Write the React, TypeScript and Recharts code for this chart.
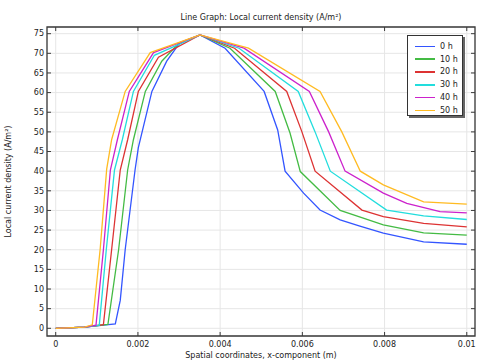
import React from 'react';
import {
  LineChart,
  Line,
  XAxis,
  YAxis,
  CartesianGrid,
  ReferenceArea,
} from 'recharts';

/* data: [x (m), current density (A/m²)] */

const h0: [number, number][] = [
  [0, 0], [0.0007, 0.3], [0.00145, 1.1], [0.00157, 7.1], [0.00169, 20],
  [0.00193, 40.3], [0.00201, 46], [0.00234, 60.3], [0.0027, 68], [0.003, 72.4],
  [0.00351, 74.7], [0.00412, 71.3], [0.00507, 60.3], [0.0054, 50.5], [0.00558, 40],
  [0.00603, 34.4], [0.00643, 30.1], [0.00692, 27.6], [0.0074, 26], [0.00797, 24.2],
  [0.00895, 22], [0.01, 21.4],
];

const h10: [number, number][] = [
  [0, 0], [0.0007, 0.3], [0.00127, 1], [0.00153, 20], [0.00175, 40.3],
  [0.00189, 48], [0.00218, 60.3], [0.00258, 68], [0.003, 72.6], [0.00351, 74.7],
  [0.00424, 71.3], [0.00534, 60.3], [0.0057, 49.7], [0.00595, 39.9], [0.00692, 30],
  [0.0075, 28], [0.00797, 26.3], [0.00895, 24.3], [0.01, 23.7],
];

const h20: [number, number][] = [
  [0, 0], [0.0007, 0.3], [0.00116, 0.9], [0.00136, 20], [0.00157, 40.3],
  [0.00175, 48], [0.00201, 60.3], [0.0025, 69], [0.00351, 74.7], [0.00435, 71.3],
  [0.00562, 60.3], [0.00599, 50], [0.00631, 40], [0.00745, 30.1], [0.00797, 28.4],
  [0.00895, 26.7], [0.01, 25.8],
];

const h30: [number, number][] = [
  [0, 0], [0.0007, 0.3], [0.00106, 0.8], [0.00123, 20], [0.00143, 40.3],
  [0.00162, 48], [0.00189, 60.3], [0.0024, 69.5], [0.00351, 74.7], [0.00446, 71.3],
  [0.0059, 60.3], [0.00631, 50], [0.00668, 40], [0.00805, 30.1], [0.00895, 28.6],
  [0.01, 27.7],
];

const h40: [number, number][] = [
  [0, 0], [0.0007, 0.3], [0.00098, 0.8], [0.00116, 20], [0.00133, 40.3],
  [0.0015, 48], [0.00179, 60.3], [0.00238, 70.2], [0.00351, 74.7], [0.00458, 71.3],
  [0.00617, 60.3], [0.00664, 50], [0.00704, 40], [0.00797, 34.4], [0.00854, 31.8],
  [0.00935, 29.7], [0.01, 29.4],
];

const h50: [number, number][] = [
  [0, 0], [0.0007, 0.3], [0.00089, 0.9], [0.00108, 20], [0.00124, 40.5],
  [0.00136, 48], [0.00169, 60.3], [0.0023, 70.2], [0.00351, 74.7], [0.00469, 71.3],
  [0.00643, 60.3], [0.00696, 50], [0.00741, 40], [0.00797, 36.5], [0.00895, 32.2],
  [0.01, 31.6],
];

const seriesNames = ['0 h', '10 h', '20 h', '30 h', '40 h', '50 h'];
const seriesColors = ['#3355ff', '#44bb44', '#dd3333', '#22dddd', '#cc22cc', '#ffbb22'];
const seriesPoints = [h0, h10, h20, h30, h40, h50];

const xTicks = [0, 0.002, 0.004, 0.006, 0.008, 0.01];
const xTickLabels = ['0', '0.002', '0.004', '0.006', '0.008', '0.01'];
const yTicks = [0, 5, 10, 15, 20, 25, 30, 35, 40, 45, 50, 55, 60, 65, 70, 75];

/* layout */

const W = 483;
const H = 363;
const PLOT_L = 47;
const PLOT_R = 475;
const PLOT_T = 27;
const PLOT_B = 336;
const X_DOMAIN: [number, number] = [-0.000212, 0.0102];
const Y_DOMAIN: [number, number] = [-1.96, 76.7];
const FONT = '"DejaVu Sans", sans-serif';
const FRAME = '#3a3a3a';

const series = seriesNames.map((name, i) => ({
  name,
  color: seriesColors[i],
  data: seriesPoints[i].map(([x, y]) => ({ x, y })),
}));

function YTick({ x, y, payload }: any) {
  return (
    <g>
      <line x1={PLOT_L} x2={PLOT_L + 4} y1={y} y2={y} stroke={FRAME} />
      <line x1={PLOT_R - 4} x2={PLOT_R} y1={y} y2={y} stroke={FRAME} />
      <text x={x - 3} y={y} dy="0.35em" textAnchor="end" fontSize={8} fill="#222" fontFamily={FONT}>
        {payload.value}
      </text>
    </g>
  );
}

function XTick({ x, y, payload, index }: any) {
  return (
    <g>
      <line x1={x} x2={x} y1={PLOT_B} y2={PLOT_B - 4} stroke={FRAME} />
      <line x1={x} x2={x} y1={PLOT_T} y2={PLOT_T + 4} stroke={FRAME} />
      <text x={x} y={y + 11} textAnchor="middle" fontSize={8} fill="#222" fontFamily={FONT}>
        {xTickLabels[index] ?? payload.value}
      </text>
    </g>
  );
}

function LegendBox() {
  return (
    <div
      style={{
        position: 'absolute',
        left: 407,
        top: 35,
        width: 56,
        height: 81,
        border: '1px solid #333',
        boxShadow: '2px 2px 0 #666',
        background: '#fff',
        fontFamily: FONT,
        fontSize: 8,
        color: '#222',
        boxSizing: 'border-box',
        paddingTop: 4,
      }}
    >
      {series.map((s) => (
        <div key={s.name} style={{ display: 'flex', alignItems: 'center', height: 12.8 }}>
          <span style={{ display: 'inline-block', marginLeft: 7, width: 20, height: 1.5, background: s.color }} />
          <span style={{ marginLeft: 5 }}>{s.name}</span>
        </div>
      ))}
    </div>
  );
}

export default function App() {
  return (
    <div style={{ position: 'absolute', left: 0, top: 0, width: W, height: H, background: '#fff' }}>
      <div
        style={{
          position: 'absolute',
          left: PLOT_L,
          width: PLOT_R - PLOT_L,
          top: 13,
          textAlign: 'center',
          fontFamily: FONT,
          fontSize: 8,
          color: '#222',
        }}
      >
        Line Graph: Local current density (A/m²)
      </div>
      <LineChart
        width={W}
        height={H}
        margin={{ top: PLOT_T, right: W - PLOT_R, bottom: 0, left: 0 }}
      >
        <CartesianGrid stroke="#e6e6e6" />
        <XAxis
          dataKey="x"
          type="number"
          domain={X_DOMAIN}
          ticks={xTicks}
          allowDataOverflow
          height={H - PLOT_B}
          tickSize={0}
          tickMargin={0}
          axisLine={false}
          tickLine={false}
          tick={<XTick />}
          interval={0}
          label={{
            value: 'Spatial coordinates, x-component (m)',
            position: 'insideBottom',
            offset: 5,
            fontSize: 8,
            fill: '#222',
            fontFamily: FONT,
          }}
        />
        <YAxis
          type="number"
          domain={Y_DOMAIN}
          ticks={yTicks}
          allowDataOverflow
          width={PLOT_L}
          tickSize={0}
          tickMargin={0}
          axisLine={false}
          tickLine={false}
          tick={<YTick />}
          interval={0}
          label={{
            value: 'Local current density (A/m²)',
            angle: -90,
            position: 'insideLeft',
            offset: 8,
            fontSize: 8,
            fill: '#222',
            fontFamily: FONT,
            style: { textAnchor: 'middle' },
          }}
        />
        {series.map((s) => (
          <Line
            key={s.name}
            data={s.data}
            dataKey="y"
            name={s.name}
            type="linear"
            stroke={s.color}
            strokeWidth={1.3}
            dot={false}
            activeDot={false}
            isAnimationActive={false}
          />
        ))}
        <ReferenceArea
          x1={X_DOMAIN[0]}
          x2={X_DOMAIN[1]}
          y1={Y_DOMAIN[0]}
          y2={Y_DOMAIN[1]}
          fill="none"
          stroke={FRAME}
          strokeWidth={1.3}
          ifOverflow="visible"
        />
      </LineChart>
      <LegendBox />
    </div>
  );
}
